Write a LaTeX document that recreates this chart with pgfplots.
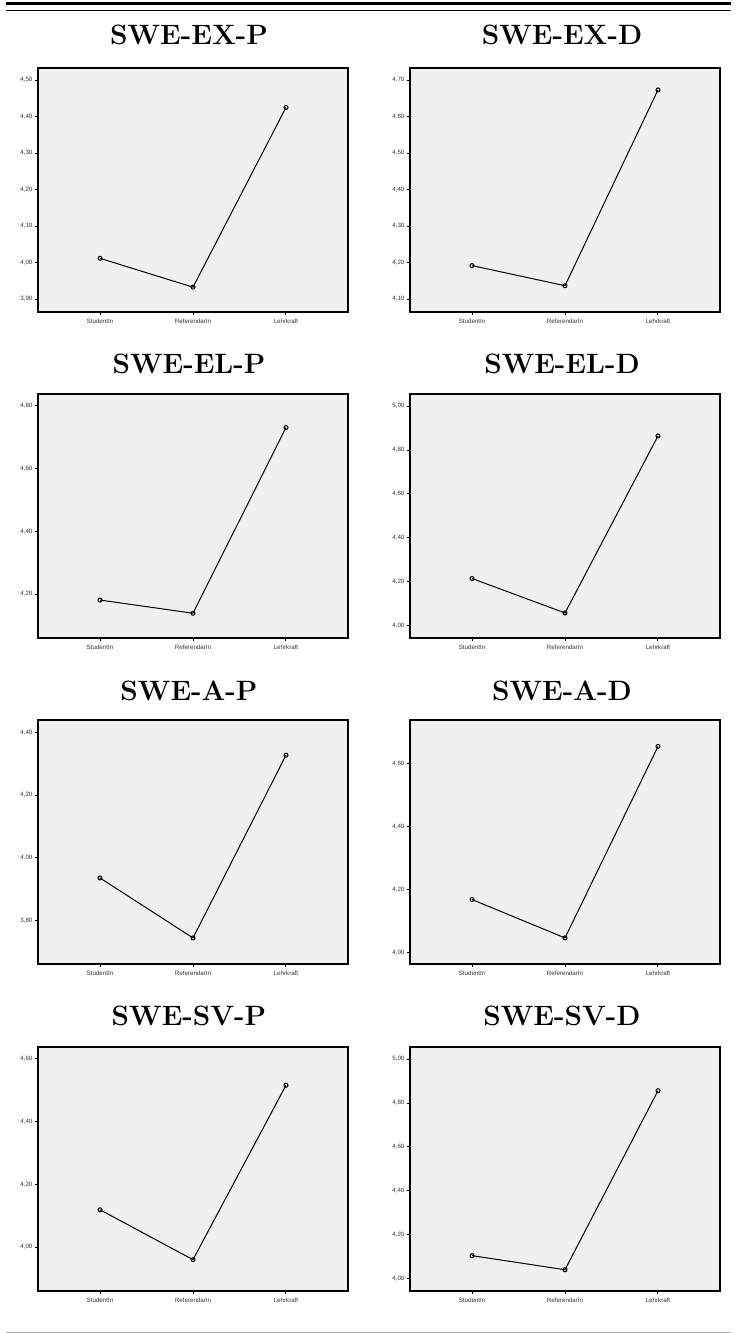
\documentclass[border=0pt]{standalone}
\usepackage{fontspec}
\usepackage{pgfplots}
\pgfplotsset{compat=1.18}
\newfontfamily\arial{Liberation Sans}
\definecolor{spssbg}{HTML}{F0F0F0}

\pgfplotsset{
  spss/.style={
    scale only axis, width=155pt, height=122pt,
    anchor=north west,
    axis background/.style={fill=spssbg},
    axis line style={line width=0.8pt},
    xmin=0.333, xmax=3.667, xtick={1,2,3},
    xticklabels={StudentIn,ReferendarIn,Lehrkraft},
    tick align=outside, xtick pos=bottom, ytick pos=left,
    major tick length=1.6pt,
    tick style={black, line width=0.5pt},
    ticklabel style={font=\arial\fontsize{3.1}{3.5}\selectfont, inner sep=1pt, text=black!80},
    yticklabel style={/pgf/number format/fixed, /pgf/number format/fixed zerofill,
      /pgf/number format/precision=2, /pgf/number format/use comma,
      /pgf/number format/assume math mode=true},
    xticklabel style={yshift=-0.5pt},
  },
  spssline/.style={black, line width=0.5pt, mark=o, mark size=1pt,
    mark options={line width=0.5pt}},
}
% titles, positions in pt
\newcommand{\ttl}[3]{\node[font=\fontsize{14}{16}\selectfont\bfseries] at (#1pt,#2pt) {#3};}

\begin{document}
\begin{tikzpicture}
\path[use as bounding box] (0pt,0pt) rectangle (368.5pt,-666.5pt);
\draw[line width=1.15pt] (3pt,-1.75pt) -- (365.5pt,-1.75pt);
\draw[line width=0.65pt] (3pt,-5.35pt) -- (365.5pt,-5.35pt);
\draw[gray!70, line width=0.5pt] (3pt,-666pt) -- (365.5pt,-666pt);

% row 1
\ttl{94.5}{-17.5}{SWE-EX-P}
\begin{axis}[spss, at={(19pt,-34pt)}, ymin=3.865, ymax=4.533, ytick={3.9,4.0,4.1,4.2,4.3,4.4,4.5}]
\addplot[spssline] coordinates {(1,4.012) (2,3.933) (3,4.425)};
\end{axis}
\ttl{281}{-17.5}{SWE-EX-D}
\begin{axis}[spss, at={(205pt,-34pt)}, ymin=4.065, ymax=4.733, ytick={4.1,4.2,4.3,4.4,4.5,4.6,4.7}]
\addplot[spssline] coordinates {(1,4.192) (2,4.137) (3,4.673)};
\end{axis}

% row 2
\ttl{94.5}{-182}{SWE-EL-P}
\begin{axis}[spss, at={(19pt,-197pt)}, ymin=4.060, ymax=4.838, ytick={4.2,4.4,4.6,4.8}]
\addplot[spssline] coordinates {(1,4.181) (2,4.139) (3,4.731)};
\end{axis}
\ttl{281}{-182}{SWE-EL-D}
\begin{axis}[spss, at={(205pt,-197pt)}, ymin=3.944, ymax=5.055, ytick={4.0,4.2,4.4,4.6,4.8,5.0}]
\addplot[spssline] coordinates {(1,4.215) (2,4.058) (3,4.864)};
\end{axis}

% row 3
\ttl{94.5}{-345.5}{SWE-A-P}
\begin{axis}[spss, at={(19pt,-360pt)}, ymin=3.662, ymax=4.439, ytick={3.8,4.0,4.2,4.4}]
\addplot[spssline] coordinates {(1,3.936) (2,3.745) (3,4.327)};
\end{axis}
\ttl{281}{-345.5}{SWE-A-D}
\begin{axis}[spss, at={(205pt,-360pt)}, ymin=3.963, ymax=4.739, ytick={4.0,4.2,4.4,4.6}]
\addplot[spssline] coordinates {(1,4.168) (2,4.046) (3,4.655)};
\end{axis}

% row 4
\ttl{94.5}{-508}{SWE-SV-P}
\begin{axis}[spss, at={(19pt,-523.5pt)}, ymin=3.860, ymax=4.638, ytick={4.0,4.2,4.4,4.6}]
\addplot[spssline] coordinates {(1,4.119) (2,3.960) (3,4.516)};
\end{axis}
\ttl{281}{-508}{SWE-SV-D}
\begin{axis}[spss, at={(205pt,-523.5pt)}, ymin=3.944, ymax=5.055, ytick={4.0,4.2,4.4,4.6,4.8,5.0}]
\addplot[spssline] coordinates {(1,4.105) (2,4.041) (3,4.856)};
\end{axis}
\end{tikzpicture}
\end{document}
